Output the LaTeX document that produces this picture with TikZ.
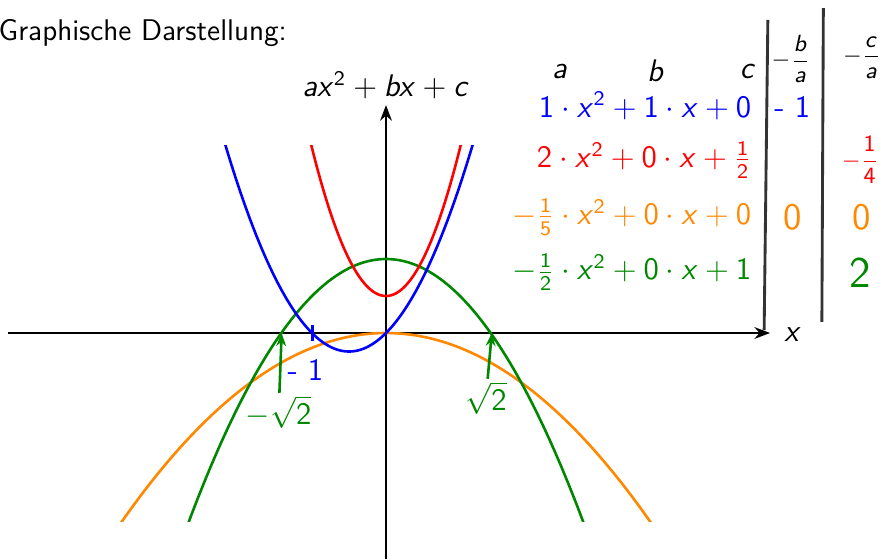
\documentclass[tikz,border=0pt]{standalone}
\usepackage{amsmath,amssymb}
\usepackage{tikz}
\usepackage{xcolor}
\usetikzlibrary{arrows.meta}
% sans serif math, as on the slide
\DeclareSymbolFont{operators}{OT1}{cmss}{m}{n}
\DeclareSymbolFont{letters}{OT1}{cmss}{m}{sl}
\definecolor{kblue}{RGB}{0,0,255}
\definecolor{kred}{RGB}{255,0,0}
\definecolor{korange}{RGB}{255,136,0}
\definecolor{kgreen}{RGB}{0,135,0}

\begin{document}
\begin{tikzpicture}[x=1cm,y=1cm,
  every node/.style={font=\fontsize{11.5}{13}\selectfont\sffamily},
  hand/.style={font=\fontsize{12}{13}\selectfont\sffamily,inner sep=1pt},
  small/.style={font=\fontsize{9}{10}\selectfont\sffamily,inner sep=1pt},
  row/.style={anchor=east,inner sep=0.5pt},
  curve/.style={line width=1pt,samples=100}]
\useasboundingbox (-5.216,-3.054) rectangle (6.716,4.5);
% title
\node[anchor=west,inner sep=0] (title) at (-5.24,4.06) {Graphische Darstellung:};
% axes
\draw[-{Stealth[length=6pt]},line width=0.9pt] (-5.11,0) -- (5.19,0) coordinate (xend);
\draw[-{Stealth[length=6pt]},line width=0.9pt] (0,-3.06) -- (0,3.08) coordinate (yend);
\node[anchor=west] (xlab) at (5.26,-0.02) {$x$};
\node (ylab) at (0,3.35) {$ax^2+bx+c$};
% parabolas
\begin{scope}
\clip (-5.2,-2.55) rectangle (6,2.54);
\draw[curve,korange] plot[domain=-3.6:3.6] (\x,{-0.2*\x*\x});
\draw[curve,kgreen] plot[domain=-2.7:2.7] (\x,{-0.5*\x*\x+1});
\draw[curve,kblue] plot[domain=-2.2:1.2] (\x,{\x*\x+\x});
\draw[curve,kred] plot[domain=-1.05:1.05] (\x,{2*\x*\x+0.5});
\end{scope}
% table
\node[row,kblue] (rowa) at (4.96,3.07) {$1\cdot x^2+1\cdot x+0$};
\node[row,kred] (rowb) at (4.96,2.34) {$2\cdot x^2+0\cdot x+\frac{1}{2}$};
\node[row,korange] (rowc) at (4.96,1.57) {$-\frac{1}{5}\cdot x^2+0\cdot x+0$};
\node[row,kgreen] (rowd) at (4.96,0.82) {$-\frac{1}{2}\cdot x^2+0\cdot x+1$};
\node[hand] (heada) at (2.35,3.53) {$a$};
\node[hand] (headb) at (3.64,3.55) {$b$};
\node[hand] (headc) at (4.89,3.53) {$c$};
\node[small] (headba) at (5.47,3.70) {$-\dfrac{b}{a}$};
\node[small] (headca) at (6.43,3.72) {$-\dfrac{c}{a}$};
\draw[black!80,line width=1.1pt] (5.16,4.23) -- (5.11,0.04);
\draw[black!80,line width=1.1pt] (5.91,4.39) -- (5.89,0.15);
\node[hand,kblue] (valba) at (5.49,3.05) {- 1};
\node[small,kred] (valca) at (6.41,2.34) {$-\dfrac{1}{4}$};
\node[hand,korange,scale=1.2] (zeroba) at (5.50,1.57) {0};
\node[hand,korange,scale=1.2] (zeroca) at (6.43,1.57) {0};
\node[hand,kgreen,scale=1.4] (twoca) at (6.41,0.82) {2};
% roots
\draw[kblue,line width=1pt] (-0.99,-0.11) -- (-0.99,0.11);
\node[hand,kblue] (mone) at (-1.09,-0.5) {- 1};
\coordinate (nroot) at (-1.41,0);
\coordinate (proot) at (1.43,0);
\node[hand,kgreen] (nrlab) at (-1.45,-1.07) {$-\sqrt{2}$};
\node[hand,kgreen] (prlab) at (1.35,-0.88) {$\sqrt{2}$};
\draw[-{Stealth[length=5pt]},kgreen,line width=1pt] (nrlab) -- (nroot);
\draw[-{Stealth[length=5pt]},kgreen,line width=1pt] (prlab) -- (proot);
\end{tikzpicture}
\end{document}
